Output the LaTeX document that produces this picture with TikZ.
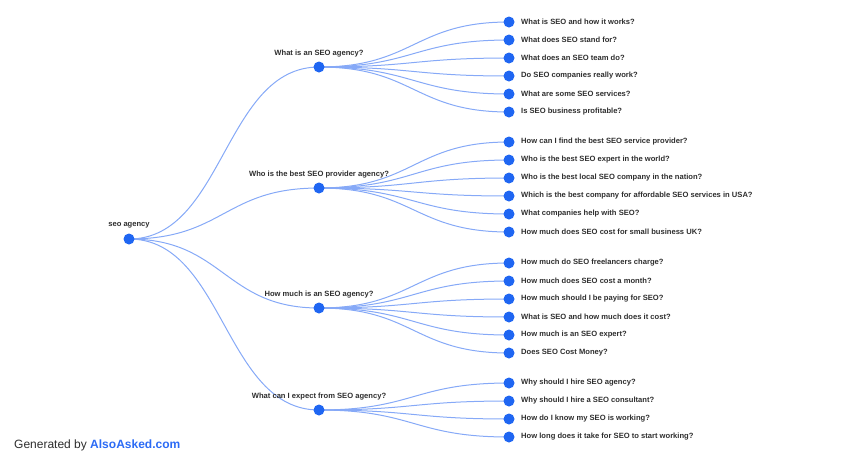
\documentclass[tikz,border=0pt]{standalone}
\usepackage{fontspec}
\setmainfont{Liberation Sans}
\usetikzlibrary{calc,backgrounds}
\definecolor{dotblue}{HTML}{1F66F2}
\definecolor{linkblue}{HTML}{86A9F7}
\definecolor{txt}{HTML}{2E2E2E}
\definecolor{brand}{HTML}{2C6BF5}
\begin{document}
\begin{tikzpicture}[x=1pt,y=-1pt,
  dot/.style={circle,fill=dotblue,inner sep=0pt,minimum size=11pt},
  lbl/.style={font=\fontsize{7.6}{9}\selectfont\bfseries,text=txt,inner sep=0pt},
  link/.style={draw=linkblue,line width=1pt}]
\useasboundingbox (0,0) rectangle (859,459);
\newcommand{\lnk}[2]{%
  \coordinate (m) at ($(#1)!.5!(#2)$);
  \draw[link] (#1.center) .. controls (m |- #1.center) and (m |- #2.center) .. (#2.center);}
% root and level 1
\node[dot] (r) at (129,239) {};
\node[lbl] (rl) at (129,225) {seo agency};
\foreach \n/\y/\t in {a/67/{What is an SEO agency?},
  b/188/{Who is the best SEO provider agency?},
  c/308/{How much is an SEO agency?},
  d/410/{What can I expect from SEO agency?}}{
  \node[dot] (\n) at (319,\y) {};
  \node[lbl] (\n l) at (319,\y-13.5) {\t};
}
% level 2
\foreach \p/\n/\y/\t in {
  a/a1/22/{What is SEO and how it works?},
  a/a2/40/{What does SEO stand for?},
  a/a3/58/{What does an SEO team do?},
  a/a4/76/{Do SEO companies really work?},
  a/a5/94/{What are some SEO services?},
  a/a6/112/{Is SEO business profitable?},
  b/b1/142/{How can I find the best SEO service provider?},
  b/b2/160/{Who is the best SEO expert in the world?},
  b/b3/178/{Who is the best local SEO company in the nation?},
  b/b4/196/{Which is the best company for affordable SEO services in USA?},
  b/b5/214/{What companies help with SEO?},
  b/b6/232/{How much does SEO cost for small business UK?},
  c/c1/263/{How much do SEO freelancers charge?},
  c/c2/281/{How much does SEO cost a month?},
  c/c3/299/{How much should I be paying for SEO?},
  c/c4/317/{What is SEO and how much does it cost?},
  c/c5/335/{How much is an SEO expert?},
  c/c6/353/{Does SEO Cost Money?},
  d/d1/383/{Why should I hire SEO agency?},
  d/d2/401/{Why should I hire a SEO consultant?},
  d/d3/419/{How do I know my SEO is working?},
  d/d4/437/{How long does it take for SEO to start working?}}{
  \node[dot] (\n) at (509,\y) {};
  \node[lbl,anchor=west] (\n l) at (521,\y) {\t};
  \begin{scope}[on background layer]\lnk{\p}{\n}\end{scope}
}
\begin{scope}[on background layer]
\foreach \n in {a,b,c,d}{\lnk{r}{\n}}
\end{scope}
\node[anchor=west,inner sep=0pt,font=\fontsize{12}{14}\selectfont,text=txt] (gen) at (14,445)
  {Generated by \textcolor{brand}{\bfseries AlsoAsked.com}};
\end{tikzpicture}
\end{document}
